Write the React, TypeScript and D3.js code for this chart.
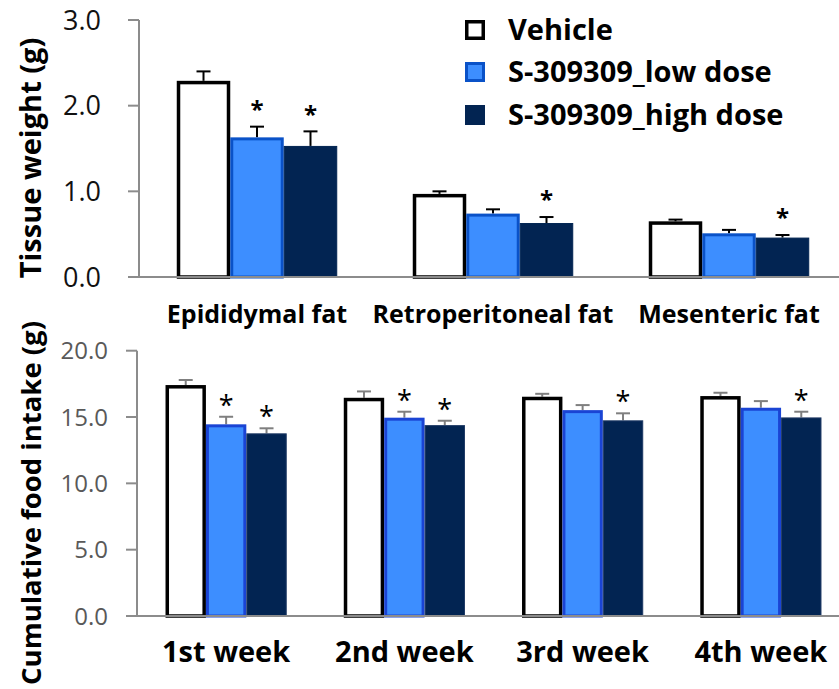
import * as d3 from 'd3';
import React from 'react';

const series = ['Vehicle', 'S-309309_low dose', 'S-309309_high dose'];

// tissue weight (g)
const tissues = ['Epididymal fat', 'Retroperitoneal fat', 'Mesenteric fat'];
const vehicleTissue = [2.29, 0.97, 0.65];
const lowTissue = [1.63, 0.74, 0.51];
const highTissue = [1.53, 0.63, 0.46];
const vehicleTissueSE = [0.11, 0.03, 0.02];
const lowTissueSE = [0.125, 0.05, 0.04];
const highTissueSE = [0.17, 0.07, 0.03];
const lowTissueSig = [true, false, false];
const highTissueSig = [true, true, true];
const tissueTicks = [0, 1, 2, 3];

// cumulative food intake (g)
const weeks = ['1st week', '2nd week', '3rd week', '4th week'];
const vehicleFood = [17.41, 16.45, 16.53, 16.58];
const lowFood = [14.45, 14.95, 15.52, 15.7];
const highFood = [13.77, 14.39, 14.75, 14.97];
const vehicleFoodSE = [0.38, 0.48, 0.22, 0.25];
const lowFoodSE = [0.57, 0.45, 0.38, 0.5];
const highFoodSE = [0.38, 0.33, 0.53, 0.43];
const lowFoodSig = [true, true, false, false];
const highFoodSig = [true, true, true, true];
const foodTicks = [0, 5, 10, 15, 20];

const FONT = '"Open Sans", "Noto Sans", sans-serif';

type Style = { fill: string; stroke: string; sw: number };

function Panel(props: {
  cats: string[];
  means: number[][];
  ses: number[][];
  sigs: boolean[][];
  ticks: number[];
  yRange: [number, number];
  xRange: [number, number];
  styles: Style[];
  tickColor: string;
  tickSize: number;
  tickRight: number;
  errColor: string;
  starSize: number;
  starWeight: string;
  starGap: number;
  labelSize: number;
  labelY: number;
  title: string;
  titleY: number;
  titleSize: number;
}) {
  const p = props;
  const y = d3.scaleLinear().domain([0, d3.max(p.ticks) as number]).range(p.yRange);
  const x = d3.scaleBand().domain(p.cats).range(p.xRange).paddingInner(0.32).paddingOuter(0.16);
  const xs = d3.scaleBand().domain(series).range([0, x.bandwidth()]);
  const axisX = p.xRange[0];
  const fmt = d3.format('.1f');
  return (
    <g>
      {p.ticks.map(t => (
        <g key={t}>
          <line x1={axisX - 11} x2={axisX} y1={y(t)} y2={y(t)} stroke="#8c8c8c" strokeWidth={2} />
          <text x={p.tickRight} y={y(t)} dy="0.36em" textAnchor="end" fontSize={p.tickSize}
            fill={p.tickColor} fontFamily={FONT}>{fmt(t)}</text>
        </g>
      ))}
      <line x1={axisX} x2={axisX} y1={y(d3.max(p.ticks) as number)} y2={y(0)} stroke="#8c8c8c" strokeWidth={2} />
      {p.cats.map((c, i) => (
        <g key={c}>
          {series.map((s, k) => {
            const st = p.styles[k];
            const x0 = (x(c) as number) + (xs(s) as number);
            const w = xs.bandwidth();
            const v = p.means[k][i];
            const top = y(v + p.ses[k][i]);
            const cx = x0 + w / 2;
            return (
              <g key={s}>
                <line x1={cx} x2={cx} y1={y(v)} y2={top} stroke={p.errColor} strokeWidth={2} />
                <line x1={cx - 7} x2={cx + 7} y1={top} y2={top} stroke={p.errColor} strokeWidth={2} />
                <rect x={x0 + st.sw / 2} y={y(v) + st.sw / 2} width={w - st.sw}
                  height={y(0) - y(v) - st.sw / 2} fill={st.fill} stroke={st.stroke} strokeWidth={st.sw} />
                {p.sigs[k][i] && (
                  <text x={cx} y={top - p.starGap + p.starSize * 0.55} textAnchor="middle"
                    fontSize={p.starSize} fontWeight={p.starWeight} fontFamily={FONT} fill="#000">*</text>
                )}
              </g>
            );
          })}
          <text x={(x(c) as number) + x.bandwidth() / 2} y={p.labelY} textAnchor="middle"
            fontSize={p.labelSize} fontWeight="bold" fontFamily={FONT} fill="#000">{c}</text>
        </g>
      ))}
      <line x1={axisX - 11} x2={839} y1={y(0)} y2={y(0)} stroke="#8c8c8c" strokeWidth={2} />
      <text transform={`translate(41,${p.titleY}) rotate(-90)`} textAnchor="middle" fontSize={p.titleSize}
        fontWeight="bold" fontFamily={FONT} fill="#000">{p.title}</text>
    </g>
  );
}

export default function App() {
  const topStyles: Style[] = [
    { fill: '#ffffff', stroke: '#000000', sw: 3.5 },
    { fill: '#3d8eff', stroke: '#0a52c8', sw: 3 },
    { fill: '#022452', stroke: '#022452', sw: 1 },
  ];
  const botStyles: Style[] = [
    { fill: '#ffffff', stroke: '#000000', sw: 3.5 },
    { fill: '#3d8eff', stroke: '#1a44d4', sw: 3 },
    { fill: '#022452', stroke: '#1f3a64', sw: 1 },
  ];
  const legendY = [30, 72, 115];
  return (
    <svg width={839} height={689} style={{ position: 'absolute', left: 0, top: 0, background: '#fff' }}>
      <Panel cats={tissues} means={[vehicleTissue, lowTissue, highTissue]}
        ses={[vehicleTissueSE, lowTissueSE, highTissueSE]}
        sigs={[[false, false, false], lowTissueSig, highTissueSig]}
        ticks={tissueTicks} yRange={[277, 20]} xRange={[139, 847]} styles={topStyles}
        tickColor="#111" tickSize={27} tickRight={101} errColor="#000"
        starSize={24} starWeight="bold" starGap={22} labelSize={25} labelY={323}
        title="Tissue weight (g)" titleY={158} titleSize={29} />
      <Panel cats={weeks} means={[vehicleFood, lowFood, highFood]}
        ses={[vehicleFoodSE, lowFoodSE, highFoodSE]}
        sigs={[[false, false, false, false], lowFoodSig, highFoodSig]}
        ticks={foodTicks} yRange={[616, 350.7]} xRange={[137, 850]} styles={botStyles}
        tickColor="#595959" tickSize={24} tickRight={108} errColor="#7f7f7f"
        starSize={27} starWeight="normal" starGap={17} labelSize={29} labelY={662}
        title="Cumulative food intake (g)" titleY={503} titleSize={27.5} />
      {series.map((s, k) => {
        const st = topStyles[k];
        return (
          <g key={s}>
            <rect x={465 + st.sw / 2} y={legendY[k] - 10 + st.sw / 2} width={20 - st.sw} height={20 - st.sw}
              fill={st.fill} stroke={k === 2 ? st.fill : st.stroke} strokeWidth={st.sw} />
            <text x={508} y={legendY[k]} dy="0.36em" fontSize={29} fontWeight="bold" fontFamily={FONT}
              fill="#000">{s}</text>
          </g>
        );
      })}
    </svg>
  );
}
